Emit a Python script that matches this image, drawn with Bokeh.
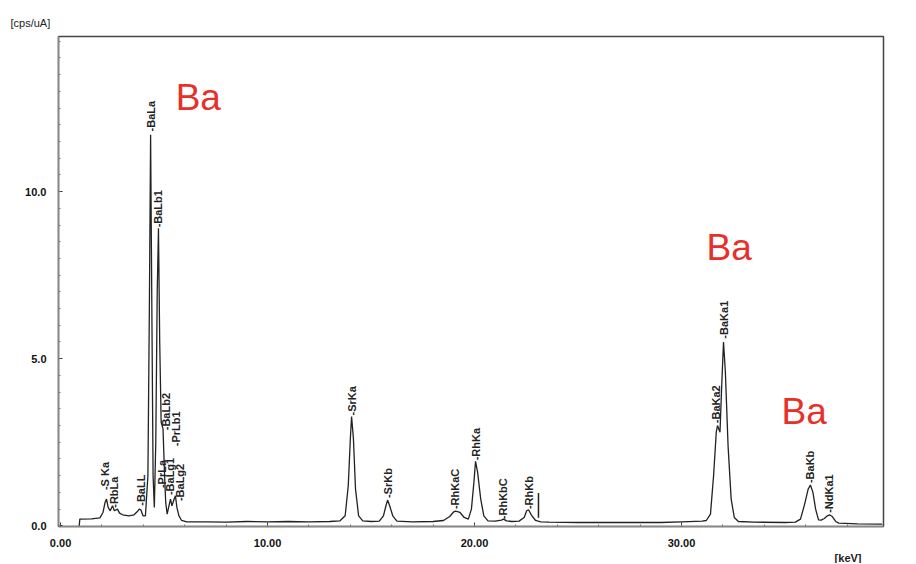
import math
from bokeh.plotting import figure
from bokeh.models import Range1d, Title, FixedTicker, PrintfTickFormatter
from bokeh.core.properties import value
from bokeh.embed import file_html
from bokeh.resources import INLINE

# ---- spectrum (keV, cps/uA) ----
energy = [0.90, 0.93, 1.50, 1.90, 2.05, 2.15, 2.22, 2.30, 2.40, 2.51, 2.60, 2.75, 2.85, 3.00,
          3.30, 3.55, 3.70, 3.80, 3.88, 3.98, 4.10, 4.22, 4.29, 4.35, 4.41, 4.47, 4.53, 4.60,
          4.67, 4.73, 4.79, 4.86, 4.95, 5.02, 5.08, 5.15, 5.22, 5.31, 5.38, 5.46, 5.55, 5.62,
          5.72, 5.85, 6.10, 7.00, 8.00, 9.00, 10.00, 11.00, 12.00, 13.00, 13.50, 13.75, 13.90,
          14.00, 14.06, 14.15, 14.25, 14.40, 14.60, 15.00, 15.40, 15.60, 15.72, 15.80, 15.90,
          16.05, 16.25, 17.00, 18.00, 18.50, 18.80, 19.00, 19.08, 19.30, 19.50, 19.70, 19.85,
          19.97, 20.05, 20.15, 20.30, 20.45, 20.65, 21.00, 21.30, 21.40, 21.55, 21.80, 22.15,
          22.40, 22.52, 22.61, 22.75, 22.95, 23.20, 23.60, 25.00, 27.00, 29.00, 30.00, 31.00,
          31.20, 31.40, 31.55, 31.68, 31.74, 31.86, 31.95, 32.03, 32.12, 32.25, 32.40, 32.55,
          32.75, 33.50, 35.00, 35.50, 35.75, 35.95, 36.12, 36.23, 36.35, 36.48, 36.62, 36.75,
          36.90, 37.05, 37.15, 37.28, 37.45, 37.60, 38.50, 39.70]
counts = [0.00, 0.20, 0.21, 0.24, 0.40, 0.70, 0.80, 0.55, 0.45, 0.60, 0.45, 0.50, 0.38, 0.33,
          0.30, 0.33, 0.42, 0.50, 0.48, 0.30, 0.30, 1.50, 6.50, 11.70, 6.50, 1.50, 0.55, 2.50,
          7.00, 8.90, 5.50, 3.10, 2.90, 1.60, 0.70, 0.35, 0.55, 0.80, 0.60, 0.75, 0.90, 0.55,
          0.30, 0.16, 0.12, 0.12, 0.11, 0.13, 0.12, 0.13, 0.12, 0.13, 0.15, 0.30, 1.20,
          2.60, 3.27, 2.60, 1.10, 0.30, 0.15, 0.13, 0.14, 0.30, 0.60, 0.77, 0.60,
          0.30, 0.14, 0.12, 0.13, 0.16, 0.28, 0.42, 0.44, 0.40, 0.25, 0.20, 0.50,
          1.30, 1.93, 1.60, 0.80, 0.30, 0.15, 0.14, 0.17, 0.20, 0.15, 0.13, 0.14,
          0.25, 0.45, 0.48, 0.32, 0.16, 0.12, 0.11, 0.10, 0.10, 0.10, 0.12, 0.14,
          0.16, 0.35, 1.50, 2.80, 3.00, 2.80, 4.30, 5.50, 4.60, 2.40, 0.80, 0.25,
          0.13, 0.11, 0.10, 0.11, 0.20, 0.65, 1.10, 1.22, 1.00, 0.50, 0.18, 0.17,
          0.22, 0.30, 0.33, 0.28, 0.13, 0.08, 0.06, 0.05]

# ---- peak identification labels ----
peak_names = ["S Ka", "RbLa", "BaLL", "BaLa", "BaLb1", "BaLb2", "PrLa", "BaLg1", "PrLb1",
              "BaLg2", "SrKa", "SrKb", "RhKaC", "RhKa", "RhKbC", "RhKb", "BaKa2", "BaKa1",
              "BaKb", "NdKa1"]
peak_kev = [2.13, 2.56, 3.91, 4.35, 4.73, 5.07, 4.88, 5.31, 5.60, 5.75, 14.06, 15.80,
            19.08, 20.05, 21.40, 22.61, 31.69, 32.03, 36.23, 37.15]
peak_cps = [1.07, 0.54, 0.60, 11.80, 8.93, 2.86, 1.13, 0.92, 2.38, 0.74, 3.30, 0.83,
            0.50, 1.96, 0.20, 0.50, 3.07, 5.60, 1.28, 0.39]

# ---- marker line ----
marker_kev = [23.09]
marker_lo = [0.24]
marker_hi = [0.98]

# ---- red element annotations ----
element_names = ["Ba", "Ba", "Ba"]
element_kev = [5.56, 31.21, 34.83]
element_cps = [12.82, 8.34, 3.43]

x_ticks = [0, 10, 20, 30]
x_minor = [i * 2 for i in range(20)]
y_ticks = [0, 5, 10]
y_minor = [i * 0.5 for i in range(30)]

FONT = "Liberation Sans"

p = figure(width=908, height=563, output_backend="svg", toolbar_location=None,
           x_range=Range1d(-0.1, 39.76), y_range=Range1d(-0.02, 14.64),
           min_border_left=58, min_border_right=25, min_border_top=36, min_border_bottom=28)
p.background_fill_color = "white"
p.border_fill_color = "white"
p.xgrid.grid_line_color = None
p.ygrid.grid_line_color = None
p.outline_line_color = "#444444"
p.outline_line_width = 1.5

p.xaxis.ticker = FixedTicker(ticks=x_ticks, minor_ticks=x_minor)
p.yaxis.ticker = FixedTicker(ticks=y_ticks, minor_ticks=y_minor)
p.xaxis.formatter = PrintfTickFormatter(format="%.2f")
p.yaxis.formatter = PrintfTickFormatter(format="%.1f")
for ax in (p.xaxis, p.yaxis):
    ax.axis_line_color = "#888888"
    ax.axis_line_width = 1.5
    ax.major_tick_in = 4
    ax.major_tick_out = 0
    ax.minor_tick_in = 2
    ax.minor_tick_out = 0
    ax.major_tick_line_color = "#333333"
    ax.minor_tick_line_color = "#777777"
    ax.major_label_text_font = FONT
    ax.major_label_text_font_size = "11px"
    ax.major_label_text_font_style = "bold"
    ax.major_label_text_color = "#111111"
p.xaxis.major_label_standoff = 12
p.yaxis.major_label_standoff = 12

p.line(energy, counts, line_color="#222222", line_width=1.3)
p.segment(x0=marker_kev, y0=marker_lo, x1=marker_kev, y1=marker_hi,
          line_color="#222222", line_width=1.5)

p.text(x=peak_kev, y=peak_cps, text=["-" + n for n in peak_names], angle=math.pi / 2,
       text_align="left", text_baseline="middle", text_font=value(FONT),
       text_font_size="11px", text_font_style="bold", text_color="#222222")

p.text(x=element_kev, y=element_cps, text=element_names, text_align="left",
       text_baseline="alphabetic", text_font=value(FONT), text_font_size="37px",
       text_color="#e8302a")

p.add_layout(Title(text="[cps/uA]", align="left", offset=-48, standoff=16,
                   text_font=FONT, text_font_size="11px", text_font_style="normal",
                   text_color="#222222"), "above")
p.add_layout(Title(text="[keV]", align="right", offset=22, standoff=0,
                   text_font=FONT, text_font_size="11px", text_font_style="bold",
                   text_color="#222222"), "below")

open("out.html", "w").write(file_html(p, INLINE))
